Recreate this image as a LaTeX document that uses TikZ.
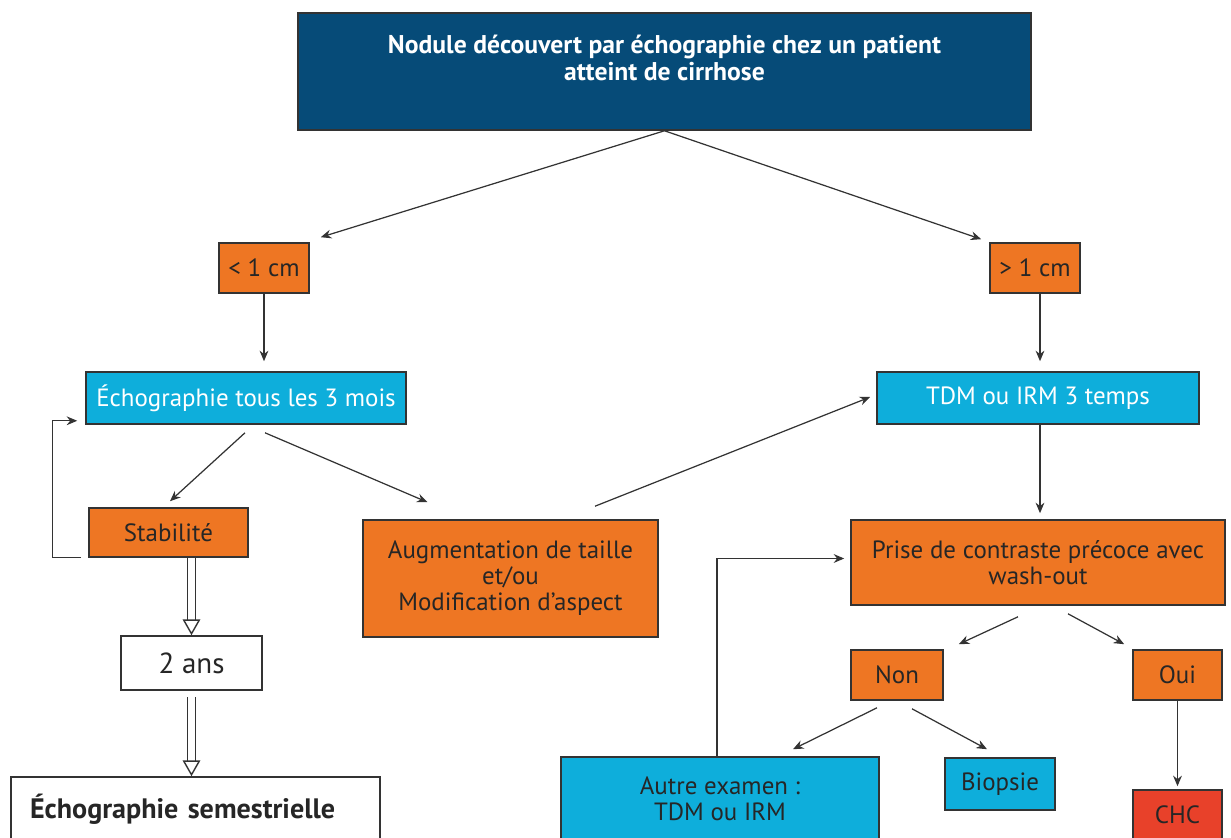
\documentclass[tikz,border=0pt]{standalone}
\usepackage{fontspec}
\setmainfont{PT Sans}
\usetikzlibrary{arrows.meta}
\definecolor{navy}{HTML}{064B78}
\definecolor{orng}{HTML}{EE7623}
\definecolor{cyn}{HTML}{0EAEDB}
\definecolor{chcred}{HTML}{E8412A}
\definecolor{edgegray}{HTML}{333333}

\begin{document}
\begin{tikzpicture}[x=0.02cm,y=-0.02cm,
  box/.style={draw=edgegray,line width=0.9pt,inner sep=0pt,align=center,
    font=\fontsize{14.2}{14.8}\selectfont,text=black!85},
  orbox/.style={box,fill=orng},
  cybox/.style={box,fill=cyn},
  arr/.style={-{Stealth[length=6pt,width=5pt]},line width=0.7pt,draw=edgegray},
  dbl/.style={draw=edgegray,double=white,double distance=3.5pt,line width=0.8pt,
    -{Triangle[open,length=9pt,width=10pt]}}]
  \useasboundingbox (0,0) rectangle (1231,838);
  \node[box,fill=navy,text=white,font=\bfseries\fontsize{14.6}{15.4}\selectfont,
    minimum width=14.66cm,minimum height=2.34cm] (top) at (664.5,71.5)
    {Nodule découvert par échographie chez un patient\\atteint de cirrhose\\\mbox{}};
  \node[orbox,minimum width=1.8cm,minimum height=1cm] (lt) at (264,268) {< 1 cm};
  \node[orbox,minimum width=1.8cm,minimum height=1cm] (gt) at (1035,268) {> 1 cm};
  \node[cybox,text=white,minimum width=6.4cm,minimum height=1.04cm] (echo) at (246,398) {Échographie tous les 3 mois};
  \node[cybox,text=white,minimum width=6.44cm,minimum height=1.04cm] (tdm) at (1038,398) {TDM ou IRM 3 temps};
  \node[orbox,minimum width=3.18cm,minimum height=0.98cm] (stab) at (168.5,532.5) {Stabilité};
  \node[orbox,minimum width=5.9cm,minimum height=2.34cm] (aug) at (510.5,578.5)
    {Augmentation de taille\\et/ou\\Modification d’aspect};
  \node[orbox,minimum width=7.48cm,minimum height=1.7cm] (prise) at (1038,562.5)
    {Prise de contraste précoce avec\\wash-out};
  \node[box,fill=white,font=\fontsize{16.5}{18}\selectfont,minimum width=2.82cm,minimum height=1.08cm] (ans) at (191.5,663) {2 ans};
  \node[box,fill=white,font=\bfseries\fontsize{16}{18}\selectfont,align=left,text width=6.62cm,inner xsep=0.38cm,
    minimum height=1.28cm] (sem) at (195.5,809) {Échographie semestrielle};
  \node[orbox,minimum width=1.84cm,minimum height=1cm] (non) at (897,675) {Non};
  \node[orbox,minimum width=1.78cm,minimum height=1cm] (oui) at (1177.5,675) {Oui};
  \node[cybox,minimum width=6.36cm,minimum height=1.68cm] (autre) at (720,799) {Autre examen :\\TDM ou IRM};
  \node[cybox,minimum width=2.2cm,minimum height=1.04cm] (bio) at (1000,784) {Biopsie};
  \node[box,fill=chcred,minimum width=1.78cm,minimum height=1cm] (chc) at (1177.5,815) {CHC};

  \draw[arr] (top.south) -- ([shift={(11,-5)}]lt.north east);
  \draw[arr] (top.south) -- ([shift={(-8,-3)}]gt.north west);
  \draw[arr,shorten >=0.2cm] (lt.south) -- (lt.south |- echo.north);
  \draw[arr,shorten >=0.2cm] ([shift={(5,0)}]gt.south) -- ([shift={(5,0)}]gt.south |- tdm.north);
  \draw[arr] ([shift={(-1,8)}]echo.south) -- ([shift={(1.5,-6)}]stab.north);
  \draw[arr] ([shift={(19,8)}]echo.south) -- ([shift={(-83,-17)}]aug.north);
  \draw[arr] ([shift={(-7,0)}]stab.south west) -- ++(-29,0) |- ([shift={(-8,-4)}]echo.south west);
  \draw[dbl] (ans.north |- stab.south) -- (ans.north);
  \draw[dbl] ([shift={(0,6)}]ans.south) -- (ans.south |- sem.north);
  \draw[arr] ([shift={(84.5,-13)}]aug.north) -- ([shift={(-6,-1)}]tdm.west);
  \draw[arr,shorten >=0.12cm] ([shift={(2,0)}]tdm.south) -- ([shift={(2,0)}]tdm.south |- prise.north);
  \draw[arr] ([shift={(-20,11)}]prise.south) -- ([shift={(15,-5)}]non.north east);
  \draw[arr] ([shift={(30,8)}]prise.south) -- ([shift={(-8,-5)}]oui.north west);
  \draw[arr] ([shift={(-20,7)}]non.south) -- ([shift={(73,-7)}]autre.north);
  \draw[arr] ([shift={(15,8)}]non.south) -- ([shift={(-13,-8)}]bio.north);
  \draw[arr,shorten >=0.06cm] (oui.south) -- (chc.north);
  \draw[arr] ([shift={(-3,0)}]autre.north) |- ([shift={(-6,-4)}]prise.west);
\end{tikzpicture}
\end{document}
